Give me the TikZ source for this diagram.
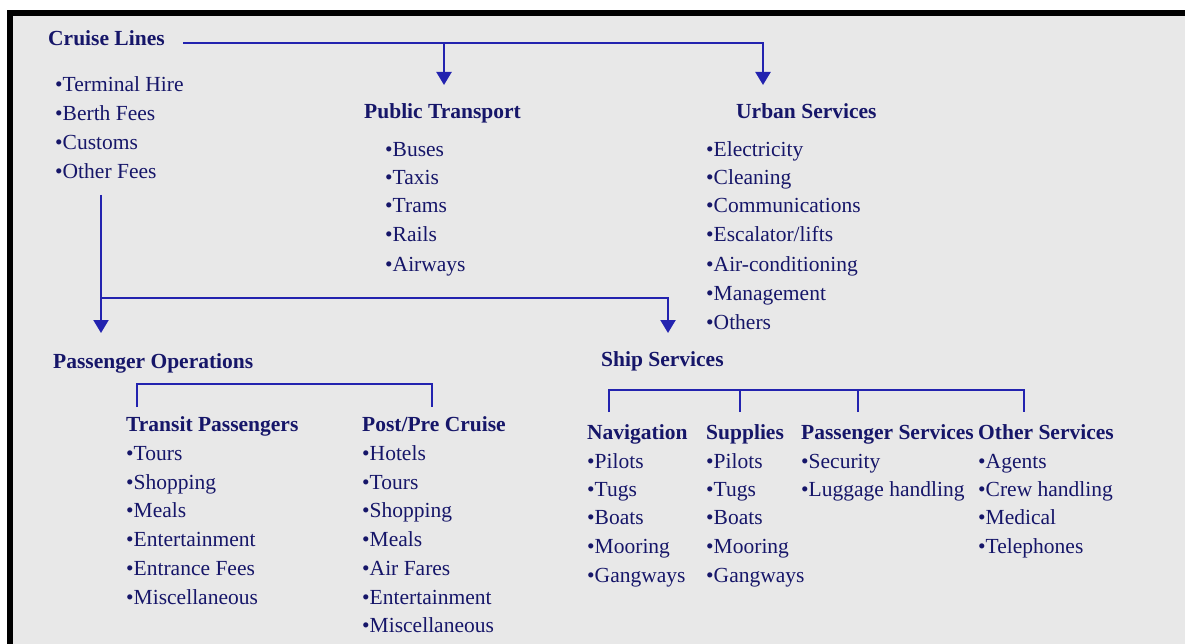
\documentclass[tikz,border=0pt]{standalone}
\usepackage{fontspec}
\setmainfont{Liberation Serif}
\usetikzlibrary{arrows.meta}
\definecolor{ink}{RGB}{22,22,105}
\definecolor{wire}{RGB}{35,35,175}
\definecolor{paper}{RGB}{232,232,232}

\begin{document}
\begin{tikzpicture}[x=1pt,y=-1pt]

    \tikzset{
      Item/.style = { anchor=base west, inner sep=0pt, text=ink,
                      font=\fontsize{21.5}{26}\selectfont },
      Head/.style = { Item, font=\fontsize{21.5}{26}\selectfont\bfseries },
      Wire/.style = { draw=wire, line width=2.2pt },
      Arrow/.style = { Wire, -{Triangle[width=15pt,length=13pt]} } }

      \useasboundingbox (0,0) rectangle (1185,644);
      \fill[white] (0,0) rectangle (1185,644);
      \fill[paper] (13,16) rectangle (1185,644);
      \fill[black] (7,10) rectangle (1185,16);
      \fill[black] (7,10) rectangle (13,644);

      % top row
      \node[Head] (cl) at (48,46) {Cruise Lines};
      \node[Item] (c1) at (55,92) {•Terminal Hire};
      \node[Item] (c2) at (55,121) {•Berth Fees};
      \node[Item] (c3) at (55,150) {•Customs};
      \node[Item] (c4) at (55,179) {•Other Fees};

      \node[Head] (pt) at (364,119) {Public Transport};
      \node[Item] (p1) at (385,157) {•Buses};
      \node[Item] (p2) at (385,185) {•Taxis};
      \node[Item] (p3) at (385,213) {•Trams};
      \node[Item] (p4) at (385,242) {•Rails};
      \node[Item] (p5) at (385,271) {•Airways};

      \node[Head] (us) at (736,119) {Urban Services};
      \node[Item] (u1) at (706,157) {•Electricity};
      \node[Item] (u2) at (706,185) {•Cleaning};
      \node[Item] (u3) at (706,213) {•Communications};
      \node[Item] (u4) at (706,242) {•Escalator/lifts};
      \node[Item] (u5) at (706,271) {•Air-conditioning};
      \node[Item] (u6) at (706,300) {•Management};
      \node[Item] (u7) at (706,329) {•Others};

      % passenger side
      \node[Head] (po) at (53,368) {Passenger Operations};

      \node[Head] (tp) at (126,431) {Transit Passengers};
      \node[Item] (t1) at (126,460) {•Tours};
      \node[Item] (t2) at (126,489) {•Shopping};
      \node[Item] (t3) at (126,517) {•Meals};
      \node[Item] (t4) at (126,546) {•Entertainment};
      \node[Item] (t5) at (126,575) {•Entrance Fees};
      \node[Item] (t6) at (126,604) {•Miscellaneous};

      \node[Head] (ppc) at (362,431) {Post/Pre Cruise};
      \node[Item] (r1) at (362,460) {•Hotels};
      \node[Item] (r2) at (362,489) {•Tours};
      \node[Item] (r3) at (362,517) {•Shopping};
      \node[Item] (r4) at (362,546) {•Meals};
      \node[Item] (r5) at (362,575) {•Air Fares};
      \node[Item] (r6) at (362,604) {•Entertainment};
      \node[Item] (r7) at (362,632) {•Miscellaneous};

      % ship side
      \node[Head] (ss) at (601,366) {Ship Services};

      \node[Head] (nav) at (587,439) {Navigation};
      \node[Item] (n1) at (587,468) {•Pilots};
      \node[Item] (n2) at (587,496) {•Tugs};
      \node[Item] (n3) at (587,524) {•Boats};
      \node[Item] (n4) at (587,553) {•Mooring};
      \node[Item] (n5) at (587,582) {•Gangways};

      \node[Head] (sup) at (706,439) {Supplies};
      \node[Item] (s1) at (706,468) {•Pilots};
      \node[Item] (s2) at (706,496) {•Tugs};
      \node[Item] (s3) at (706,524) {•Boats};
      \node[Item] (s4) at (706,553) {•Mooring};
      \node[Item] (s5) at (706,582) {•Gangways};

      \node[Head] (pas) at (801,439) {Passenger Services};
      \node[Item] (a1) at (801,468) {•Security};
      \node[Item] (a2) at (801,496) {•Luggage handling};

      \node[Head] (oth) at (978,439) {Other Services};
      \node[Item] (o1) at (978,468) {•Agents};
      \node[Item] (o2) at (978,496) {•Crew handling};
      \node[Item] (o3) at (978,524) {•Medical};
      \node[Item] (o4) at (978,553) {•Telephones};

      % connectors
      \coordinate (bus1) at (183,43);
      \coordinate (pt-in) at (444,85);
      \coordinate (us-in) at (763,85);
      \draw[Arrow] (bus1) -| (us-in);
      \draw[Arrow] (bus1 -| pt-in) -- (pt-in);

      \coordinate (bus2) at (101,195);
      \coordinate (split) at (101,298);
      \coordinate (po-in) at (101,333);
      \coordinate (ss-in) at (668,333);
      \draw[Arrow] (bus2) -- (po-in);
      \draw[Arrow] (split) -| (ss-in);

      \coordinate (tp-in) at (137,407);
      \coordinate (ppc-in) at (432,407);
      \draw[Wire] (tp-in) -- ++(0,-23) -| (ppc-in);

      \coordinate (nav-in) at (609,412);
      \coordinate (sup-in) at (740,412);
      \coordinate (pas-in) at (858,412);
      \coordinate (oth-in) at (1024,412);
      \draw[Wire] (nav-in) -- ++(0,-22) -| (oth-in);
      \draw[Wire] (sup-in) -- ++(0,-22);
      \draw[Wire] (pas-in) -- ++(0,-22);

\end{tikzpicture}
\end{document}
